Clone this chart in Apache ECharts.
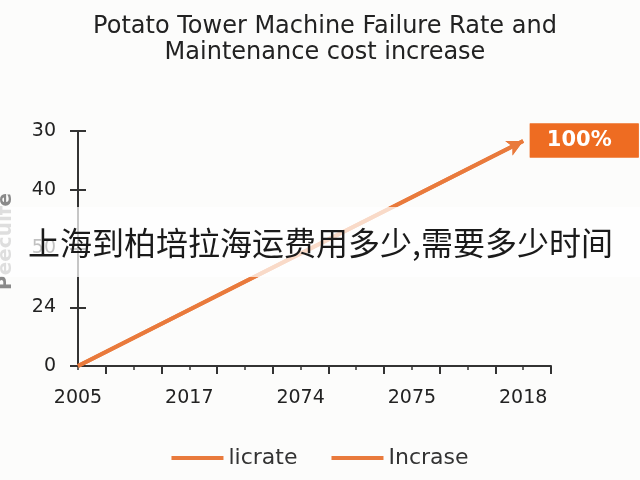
<!DOCTYPE html>
<html>
<head>
    <meta charset="utf-8">
    <script src="https://cdn.jsdelivr.net/npm/echarts@6/dist/echarts.min.js"></script>
</head>
<body style="margin:0">
    <div id="main" style="width: 640px; height: 480px"></div>
    <script type="text/javascript">
        var xLabels = ['2005', '2017', '2074', '2075', '2018'];
        var xLabelPos = [0, 2, 4, 6, 8];
        var xMajorTicks = [0.5, 1.5, 2.5, 3.5, 4.5, 5.5, 6.5, 7.5, 8.5];
        var yLabels = ['0', '24', '50', '40', '30'];
        var seriesNames = ['licrate', 'Incrase'];
        var lineData = [[0, 0], [8.0, 3.83]];
        var endLabel = '100%';
        var overlayText = '上海到柏培拉海运费用多少,需要多少时间';

        var orange = '#e97a3c';
        var font = 'DejaVu Sans';

        window.onload = function () {
            chart();
        }

        function makeData() {
            var data = [];
            for (var i = 0; i < lineData.length; i++) {
                if (i == lineData.length - 1) {
                    data.push({
                        value: lineData[i],
                        symbol: 'arrow',
                        symbolSize: [12, 16],
                        symbolRotate: -63,
                        label: {
                            show: true,
                            position: 'right',
                            distance: 3,
                            offset: [0, -4],
                            formatter: endLabel,
                            backgroundColor: '#ee6c22',
                            color: '#fff',
                            fontSize: 21,
                            fontWeight: 'bold',
                            fontFamily: font,
                            lineHeight: 22,
                            padding: [6, 27, 6, 17]
                        }
                    });
                } else {
                    data.push({value: lineData[i], symbol: 'none'});
                }
            }
            return data;
        }

        function chart() {
            var myChart = echarts.init(document.getElementById('main'));
            var serie = [];
            for (var i = 0; i < seriesNames.length; i++) {
                serie.push({
                    name: seriesNames[i],
                    type: 'line',
                    data: makeData(),
                    lineStyle: {color: orange, width: 4},
                    itemStyle: {color: orange},
                    z: 3
                });
            }
            var axisColor = '#333';
            option = {
                backgroundColor: '#fcfcfb',
                animation: false,
                title: {
                    left: 320,
                    top: 9,
                    textAlign: 'center',
                    text: 'Potato Tower Machine Failure Rate and\nMaintenance cost increase',
                    textStyle: {
                        fontFamily: font,
                        fontSize: 24,
                        fontWeight: 'normal',
                        color: '#222',
                        lineHeight: 26
                    }
                },
                legend: {
                    bottom: 6,
                    left: 'center',
                    icon: 'rect',
                    itemWidth: 52,
                    itemHeight: 4,
                    itemGap: 34,
                    textStyle: {fontFamily: font, fontSize: 22, color: '#333'},
                    data: seriesNames
                },
                grid: {left: 78, right: 89, top: 131, bottom: 114, outerBoundsMode: 'none'},
                xAxis: [{
                    type: 'value', min: 0, max: 8.5, interval: 2,
                    axisLine: {lineStyle: {color: axisColor, width: 2}},
                    axisTick: {show: false},
                    splitLine: {show: false},
                    axisLabel: {
                        margin: 23, fontFamily: font, fontSize: 19, color: '#222',
                        customValues: xLabelPos,
                        formatter: function (v) { return xLabels[xLabelPos.indexOf(v)] || ''; }
                    }
                }, {
                    type: 'value', min: 0, max: 8.5, position: 'bottom',
                    axisLine: {show: false},
                    axisTick: {show: true, length: 8, customValues: xMajorTicks, lineStyle: {color: axisColor, width: 2}},
                    axisLabel: {show: false},
                    splitLine: {show: false}
                }, {
                    type: 'value', min: 0, max: 8.5, interval: 1, position: 'bottom',
                    axisLine: {show: false},
                    axisTick: {show: true, length: 4, lineStyle: {color: axisColor, width: 1.5}},
                    axisLabel: {show: false},
                    splitLine: {show: false}
                }],
                yAxis: [{
                    type: 'value', min: 0, max: 4, interval: 1,
                    name: 'Peecuife',
                    nameLocation: 'middle',
                    nameGap: 62,
                    nameTextStyle: {fontFamily: font, fontSize: 20, fontWeight: 'bold', color: '#8a8a8a', padding: [0, 0, 0, 14]},
                    axisLine: {show: true, lineStyle: {color: axisColor, width: 2}},
                    axisTick: {show: true, length: 8, lineStyle: {color: axisColor, width: 2}},
                    splitLine: {show: false},
                    axisLabel: {
                        margin: 22, fontFamily: font, fontSize: 19, color: '#222',
                        formatter: function (v) { return yLabels[v]; }
                    }
                }, {
                    type: 'value', min: 0, max: 4, interval: 1, position: 'left',
                    axisLine: {show: false},
                    axisTick: {show: true, inside: true, length: 8, lineStyle: {color: axisColor, width: 2}},
                    axisLabel: {show: false},
                    splitLine: {show: false}
                }],
                series: serie,
                graphic: [{
                    type: 'rect',
                    z: 100,
                    shape: {x: 0, y: 207, width: 640, height: 70},
                    style: {fill: 'rgba(255,255,255,0.72)'}
                }, {
                    type: 'text',
                    z: 101,
                    left: 28,
                    top: 227,
                    style: {
                        text: overlayText,
                        font: '32px "Noto Sans CJK SC"',
                        fill: '#1a1a1a'
                    }
                }]
            };
            myChart.setOption(option);
        }
    </script>
</body>
</html>
